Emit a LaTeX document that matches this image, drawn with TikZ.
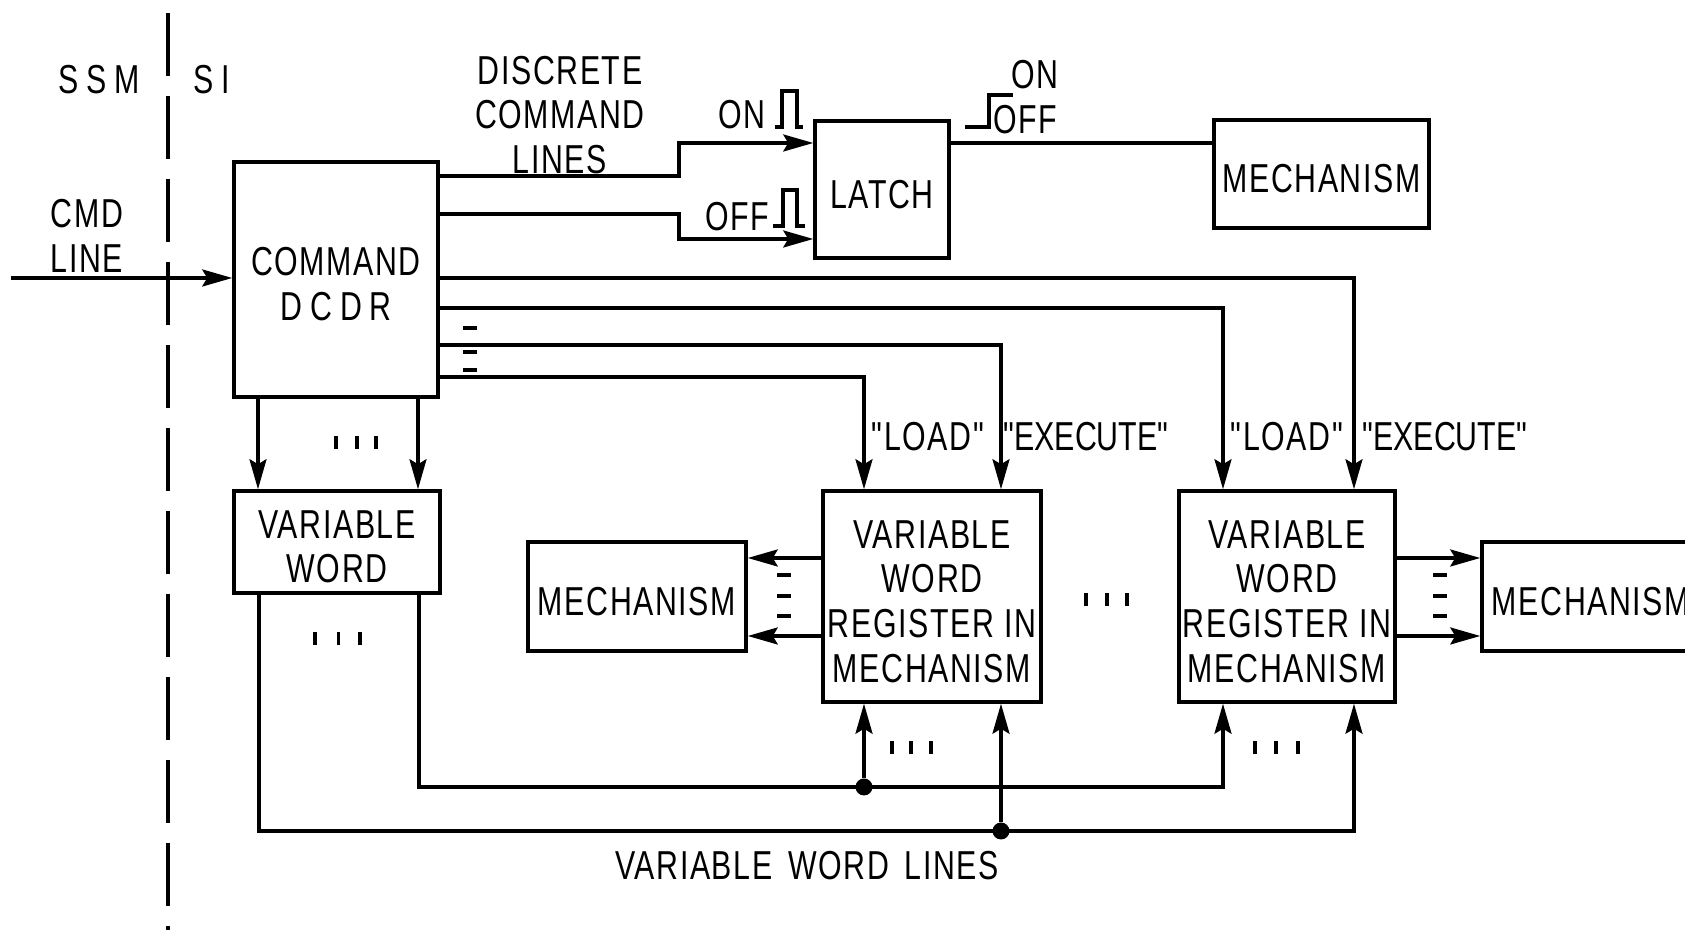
\documentclass[tikz,border=0pt]{standalone}
\usepackage{fontspec}
\newfontfamily\plainfont[FakeStretch=.75,LetterSpace=4]{Liberation Sans}
\newfontfamily\tightfont[FakeStretch=.75]{Liberation Sans}
\newfontfamily\widefont[FakeStretch=.75,LetterSpace=20]{Liberation Sans}
\usetikzlibrary{arrows.meta}
\newcommand{\lowstrut}{\rule{0pt}{10.7pt}}
\tikzset{
  block/.style={draw,line width=1pt,align=center,inner sep=0pt},
  wire/.style={line width=.9pt},
  joint/.style={circle,fill=black,inner sep=0pt,minimum size=.17cm},
  tick/.style={line width=1.1pt}
}
\begin{document}
\begin{tikzpicture}[>={Stealth[length=.3cm,width=.17cm,inset=.05cm]},every node/.style={font=\fontsize{11.5}{12.7}\plainfont}]
\useasboundingbox (0,0) rectangle (16.85,9.3);
% boxes
\node[block,minimum width=2.04cm,minimum height=2.35cm] (dcdr) at (3.36,6.505){\lowstrut COMMAND\\{\widefont DCDR}};
\node[block,minimum width=1.34cm,minimum height=1.37cm] (latch) at (8.82,7.405){\lowstrut LATCH};
\node[block,minimum width=2.15cm,minimum height=1.08cm] (topmech) at (13.215,7.56){\lowstrut MECHANISM};
\node[block,minimum width=2.06cm,minimum height=1.02cm] (varword) at (3.37,3.88){\lowstrut VARIABLE\\WORD};
\node[block,minimum width=2.18cm,minimum height=1.09cm] (leftmech) at (6.37,3.335){\lowstrut MECHANISM};
\node[block,minimum width=2.18cm,minimum height=2.11cm] (regone) at (9.32,3.335){\lowstrut VARIABLE\\WORD\\REGISTER IN\\MECHANISM};
\node[block,minimum width=2.16cm,minimum height=2.11cm] (regtwo) at (12.87,3.335){\lowstrut VARIABLE\\WORD\\REGISTER IN\\MECHANISM};
\node[block,minimum width=2.18cm,minimum height=1.09cm] (rightmech) at (15.91,3.335){\lowstrut MECHANISM};

% SSM / SI boundary
\coordinate (bndtop) at (1.68,9.17);
\coordinate (bndend) at (1.68,0);
\draw[wire,dash pattern=on .63cm off .2cm] (bndtop)--(bndend);
\node (ssm) at (.99,8.5){\widefont SSM};
\node (si) at (2.12,8.5){\widefont SI};
\node[align=center] (cmdline) at (.87,6.94){CMD\\LINE};
\coordinate (cmdin) at (.11,6.52);
\draw[wire,->] (cmdin)--(dcdr.west|-cmdin);

% discrete lines
\draw[wire,->] (dcdr.east|-0,7.54)--(6.79,7.54)--(6.79,7.87)--(latch.west|-0,7.87);
\draw[wire,->] (dcdr.east|-0,7.16)--(6.79,7.16)--(6.79,6.91)--(latch.west|-0,6.91);
\draw[wire] (latch.east|-0,7.87)--(topmech.west|-0,7.87);
\node[align=center] (discrete) at (5.6,8.15){DISCRETE\\COMMAND\\LINES};
\node (onin) at (7.42,8.15){ON};
\node (offin) at (7.37,7.13){OFF};
\node (onout) at (10.35,8.55){ON};
\node (offout) at (10.25,8.1){OFF};
\draw[wire] (7.75,8.03)--(7.82,8.03)--(7.82,8.39)--(7.97,8.39)--(7.97,8.03)--(8.03,8.03);
\draw[wire] (7.73,7.04)--(7.83,7.04)--(7.83,7.4)--(7.97,7.4)--(7.97,7.04)--(8.05,7.04);
\draw[wire] (9.65,8.03)--(9.89,8.03)--(9.89,8.35)--(10.13,8.35);

% load and execute lines
\draw[wire,->] (dcdr.east|-0,6.52)-|(regtwo.north-|13.54,0);
\draw[wire,->] (dcdr.east|-0,6.22)-|(regtwo.north-|12.23,0);
\draw[wire,->] (dcdr.east|-0,5.85)-|(regone.north-|10.01,0);
\draw[wire,->] (dcdr.east|-0,5.53)-|(regone.north-|8.64,0);
\node (loadone) at (9.28,4.93){"LOAD"};
\node (execone) at (10.86,4.93){\tightfont "EXECUTE"};
\node (loadtwo) at (12.87,4.93){"LOAD"};
\node (exectwo) at (14.45,4.93){\tightfont "EXECUTE"};

% decoder to variable word
\draw[wire,->] (2.58,0|-dcdr.south)--(2.58,0|-varword.north);
\draw[wire,->] (4.18,0|-dcdr.south)--(4.18,0|-varword.north);

% register to mechanism
\draw[wire,->] (regone.west|-0,3.72)--(leftmech.east|-0,3.72);
\draw[wire,->] (regone.west|-0,2.94)--(leftmech.east|-0,2.94);
\draw[wire,->] (regtwo.east|-0,3.72)--(rightmech.west|-0,3.72);
\draw[wire,->] (regtwo.east|-0,2.94)--(rightmech.west|-0,2.94);

% variable word lines
\node[joint] (jointa) at (8.64,1.43){};
\node[joint] (jointb) at (10.01,.99){};
\draw[wire,->] (4.19,0|-varword.south)|-(jointa.center)--(12.23,1.43)--(12.23,0|-regtwo.south);
\draw[wire,->] (2.59,0|-varword.south)|-(jointb.center)--(13.54,.99)--(13.54,0|-regtwo.south);
\draw[wire,->] (jointa)--(8.64,0|-regone.south);
\draw[wire,->] (jointb)--(10.01,0|-regone.south);
\node (wordlines) at (8.07,.64){VARIABLE\hspace{.14em} WORD\hspace{.14em} LINES};

% ticks
\foreach \x in {3.36,3.57,3.76}\draw[tick] (\x,4.81)--(\x,4.94);
\foreach \x in {3.15,3.385,3.6}\draw[tick] (\x,2.85)--(\x,2.98);
\foreach \x in {10.86,11.07,11.27}\draw[tick] (\x,3.24)--(\x,3.37);
\foreach \x in {8.92,9.11,9.31}\draw[tick] (\x,1.76)--(\x,1.89);
\foreach \x in {12.55,12.76,12.98}\draw[tick] (\x,1.76)--(\x,1.89);
\foreach \y in {6.02,5.78,5.6}\draw[tick] (4.63,\y)--(4.77,\y);
\foreach \y in {3.55,3.34,3.14}\draw[tick] (7.77,\y)--(7.91,\y);
\foreach \y in {3.55,3.34,3.14}\draw[tick] (14.33,\y)--(14.47,\y);
\end{tikzpicture}
\end{document}
